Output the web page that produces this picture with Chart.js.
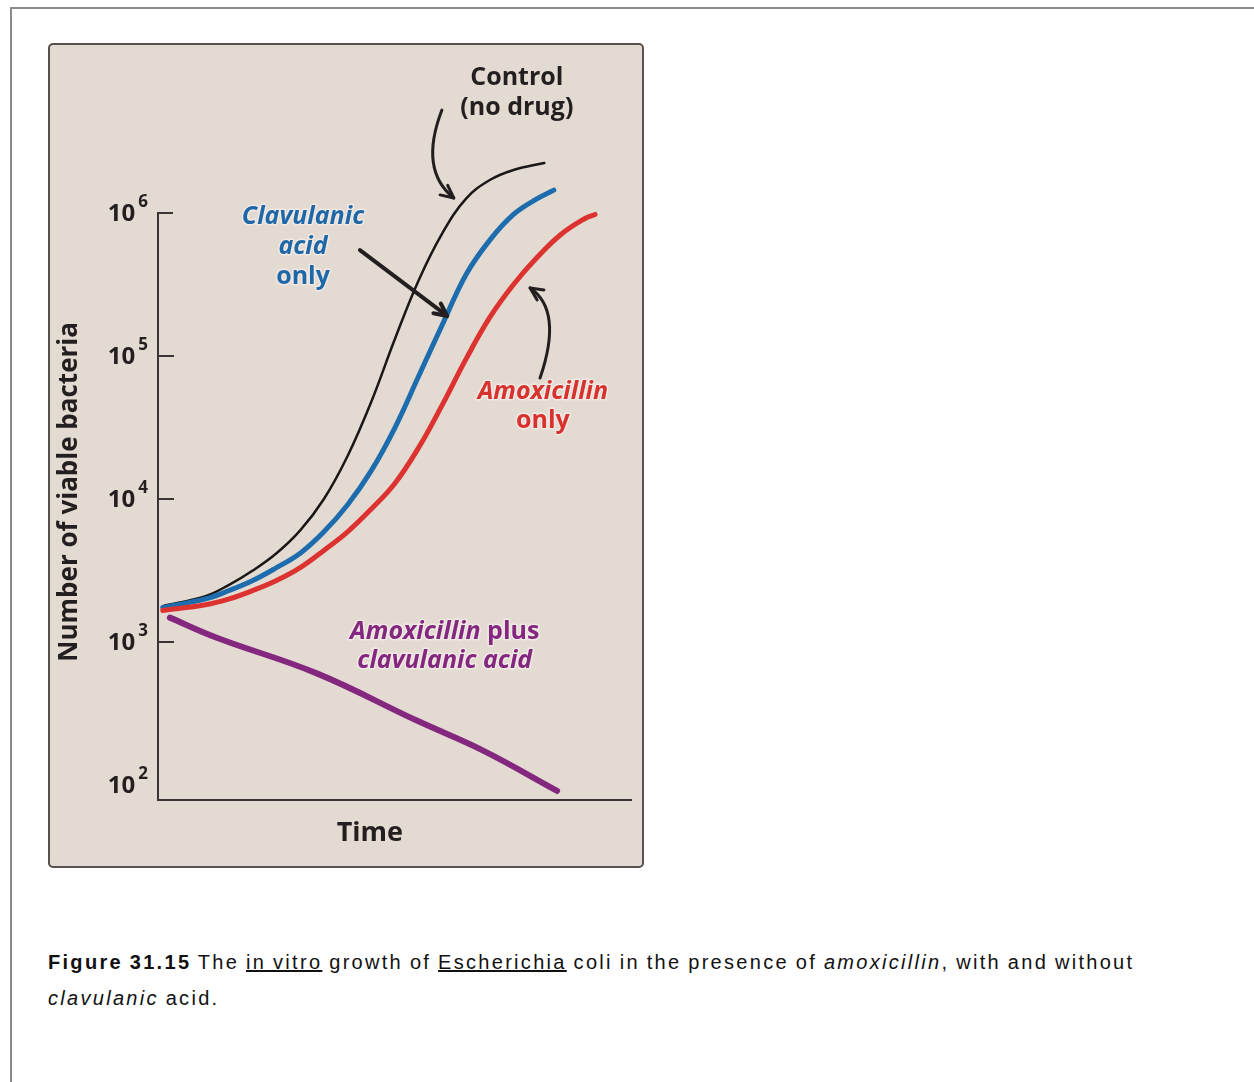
<!DOCTYPE html>
<html>
<head>
<meta charset="utf-8">
<script src="https://cdn.jsdelivr.net/npm/chart.js@4.4.1/dist/chart.umd.min.js"></script>
<style>
  body { margin: 0; background: #fff; width: 1254px; height: 1082px; overflow: hidden; position: relative; }
  #frame { position: absolute; left: 10px; top: 7px; width: 1400px; height: 1200px;
           border-top: 2px solid #8a8a8a; border-left: 2px solid #8a8a8a; }
  #panel { position: absolute; left: 48px; top: 43px; width: 592px; height: 821px;
           background: #e3dbd1; border: 2px solid #57504e; border-radius: 5px; }
  #panel canvas { position: absolute; left: 0; top: 0; }
  #caption { position: absolute; left: 48px; top: 944px; width: 1200px;
             font-family: "Liberation Sans", Arial, sans-serif; font-size: 20px;
             line-height: 36px; color: #111; letter-spacing: 2.3px; word-spacing: -1px; }
</style>
</head>
<body>
<div id="frame"></div>
<div id="panel"><canvas id="chart"></canvas></div>
<div id="caption"><b>Figure 31.15</b> The <u>in vitro</u> growth of <u>Escherichia</u> coli in the presence of <i>amoxicillin</i>, with and without<br><i>clavulanic</i> acid.</div>
<script>
// time in arbitrary units, counts
var controlTime  = [0.1, 1, 1.5, 2, 2.5, 3, 3.5, 4, 4.5, 5, 5.5, 6, 6.5, 7, 7.5, 8.15];
var controlCount = [1780, 2090, 2510, 3160, 4170, 6030, 10000, 20000, 47900, 132000, 339000, 724000, 1260000, 1700000, 2000000, 2240000];

var clavTime  = [0.1, 1, 1.5, 2, 2.5, 3, 3.5, 4, 4.5, 5, 5.5, 6, 6.5, 7, 7.5, 8, 8.35];
var clavCount = [1740, 2000, 2290, 2690, 3310, 4170, 5890, 9120, 15800, 31600, 72400, 166000, 372000, 646000, 977000, 1260000, 1445000];

var amoxTime  = [0.1, 1, 1.5, 2, 2.5, 3, 3.5, 4, 4.5, 5, 5.5, 6, 6.5, 7, 7.5, 8, 8.5, 9, 9.22];
var amoxCount = [1660, 1820, 2000, 2290, 2690, 3310, 4370, 5890, 8510, 12900, 22900, 45700, 95500, 186000, 316000, 490000, 708000, 912000, 977000];

var bothTime  = [0.25, 1.24, 3.35, 5.46, 6.86, 8.42];
var bothCount = [1480, 1070, 603, 282, 174, 91];

var tickExponents = [2, 3, 4, 5, 6];

function pts(t, n) {
    return t.map(function (v, i) { return {x: v, y: n[i]}; });
}

var FONT = '"Open Sans", "Noto Sans", sans-serif';
var INK = '#231f20';

function drawRuns(ctx, runs, cx, cy, size, color, halo) {
    var w = 0;
    runs.forEach(function (r) {
        ctx.font = (r.italic ? 'italic ' : '') + 'bold ' + size + 'px ' + FONT;
        r.w = ctx.measureText(r.text).width;
        w += r.w;
    });
    var x = cx - w / 2;
    ctx.textBaseline = 'middle';
    ctx.textAlign = 'left';
    runs.forEach(function (r) {
        ctx.font = (r.italic ? 'italic ' : '') + 'bold ' + size + 'px ' + FONT;
        if (halo) {
            ctx.lineWidth = 3;
            ctx.lineJoin = 'round';
            ctx.strokeStyle = 'rgba(255,248,250,0.5)';
            ctx.strokeText(r.text, x, cy);
        }
        ctx.fillStyle = color;
        ctx.fillText(r.text, x, cy);
        x += r.w;
    });
}

function arrowHead(ctx, x, y, ang) {
    var len = 14, spread = 0.45;
    ctx.beginPath();
    ctx.moveTo(x - len * Math.cos(ang - spread), y - len * Math.sin(ang - spread));
    ctx.lineTo(x, y);
    ctx.lineTo(x - len * Math.cos(ang + spread), y - len * Math.sin(ang + spread));
    ctx.stroke();
}

var figurePlugin = {
    id: 'figure',
    beforeDatasetsDraw: function (chart) {
        var ctx = chart.ctx, xs = chart.scales.x, ys = chart.scales.y, a = chart.chartArea;
        ctx.save();
        ctx.strokeStyle = '#3b3434';
        ctx.lineWidth = 2;
        var top = ys.getPixelForValue(1e6);
        ctx.beginPath();
        ctx.moveTo(a.left + 15, top);
        ctx.lineTo(a.left, top);
        ctx.lineTo(a.left, a.bottom);
        ctx.lineTo(xs.getPixelForValue(10), a.bottom);
        ctx.stroke();
        tickExponents.forEach(function (e) {
            var y = ys.getPixelForValue(Math.pow(10, e));
            if (e > 2 && e < 6) {
                ctx.beginPath();
                ctx.moveTo(a.left, y);
                ctx.lineTo(a.left + 16, y);
                ctx.stroke();
            }
            ctx.fillStyle = INK;
            ctx.textAlign = 'right';
            ctx.textBaseline = 'middle';
            ctx.font = 'bold 17px ' + FONT;
            ctx.fillText(String(e), a.left - 10, y - 11);
            var ew = ctx.measureText(String(e)).width;
            ctx.font = 'bold 24px ' + FONT;
            ctx.fillText('10', a.left - 13 - ew, y + 1);
        });
        // axis titles
        ctx.font = 'bold 27px ' + FONT;
        ctx.textAlign = 'center';
        ctx.fillStyle = INK;
        ctx.fillText('Time', xs.getPixelForValue(4.47), a.bottom + 33);
        ctx.font = 'bold 26px ' + FONT;
        ctx.save();
        ctx.translate(a.left - 88, ys.getPixelForValue(Math.pow(10, 4.05)));
        ctx.rotate(-Math.PI / 2);
        ctx.fillText('Number of viable bacteria', 0, 0);
        ctx.restore();
        ctx.restore();
    },
    afterDatasetsDraw: function (chart) {
        var ctx = chart.ctx, xs = chart.scales.x, ys = chart.scales.y;
        function P(t, lg) { return [xs.getPixelForValue(t), ys.getPixelForValue(Math.pow(10, lg))]; }
        ctx.save();
        var p, fs = 25;
        p = P(7.57, 6.944); drawRuns(ctx, [{text: 'Control'}], p[0], p[1], fs, INK);
        p = P(7.57, 6.737); drawRuns(ctx, [{text: '(no drug)'}], p[0], p[1], fs, INK);

        var blue = '#1f68a8', red = '#d8322f', purple = '#84287f';
        p = P(3.06, 5.972); drawRuns(ctx, [{text: 'Clavulanic', italic: true}], p[0], p[1], fs, blue, true);
        p = P(3.06, 5.762); drawRuns(ctx, [{text: 'acid', italic: true}], p[0], p[1], fs, blue, true);
        p = P(3.06, 5.552); drawRuns(ctx, [{text: 'only'}], p[0], p[1], fs, blue, true);

        p = P(8.12, 4.748); drawRuns(ctx, [{text: 'Amoxicillin', italic: true}], p[0], p[1], fs, red, true);
        p = P(8.12, 4.545); drawRuns(ctx, [{text: 'only'}], p[0], p[1], fs, red, true);

        p = P(6.05, 3.070); drawRuns(ctx, [{text: 'Amoxicillin', italic: true}, {text: ' plus'}], p[0], p[1], fs, purple, true);
        p = P(6.05, 2.867); drawRuns(ctx, [{text: 'clavulanic acid', italic: true}], p[0], p[1], fs, purple, true);

        // arrows
        ctx.strokeStyle = INK;
        ctx.lineCap = 'round';
        ctx.lineJoin = 'round';
        ctx.lineWidth = 3;
        var s, c, e;
        s = P(5.99, 6.72); c = P(5.5, 6.30); e = P(6.24, 6.105);
        ctx.beginPath(); ctx.moveTo(s[0], s[1]); ctx.quadraticCurveTo(c[0], c[1], e[0], e[1]); ctx.stroke();
        arrowHead(ctx, e[0], e[1], Math.atan2(e[1] - c[1], e[0] - c[0]));

        s = P(4.26, 5.741); e = P(6.10, 5.28);
        ctx.lineWidth = 4;
        ctx.beginPath(); ctx.moveTo(s[0], s[1]); ctx.lineTo(e[0], e[1]); ctx.stroke();
        arrowHead(ctx, e[0], e[1], Math.atan2(e[1] - s[1], e[0] - s[0]));

        ctx.lineWidth = 3;
        s = P(8.06, 4.846); c = P(8.55, 5.32); e = P(7.85, 5.476);
        ctx.beginPath(); ctx.moveTo(s[0], s[1]); ctx.quadraticCurveTo(c[0], c[1], e[0], e[1]); ctx.stroke();
        arrowHead(ctx, e[0], e[1], Math.atan2(e[1] - c[1], e[0] - c[0]));
        ctx.restore();
    }
};

var canvas = document.getElementById('chart');
canvas.width = 592;
canvas.height = 821;

var allData = {
    datasets: [
        {label: 'Amoxicillin plus clavulanic acid', data: pts(bothTime, bothCount), borderColor: '#84287f', borderWidth: 6},
        {label: 'Amoxicillin only', data: pts(amoxTime, amoxCount), borderColor: '#dc3230', borderWidth: 5},
        {label: 'Clavulanic acid only', data: pts(clavTime, clavCount), borderColor: '#1c6cae', borderWidth: 5},
        {label: 'Control (no drug)', data: pts(controlTime, controlCount), borderColor: '#1a1718', borderWidth: 2.5}
    ]
};

var chartOptions = {
    responsive: false,
    animation: false,
    layout: {padding: {left: 108, top: 105, right: 10, bottom: 66}},
    plugins: {legend: {display: false}, tooltip: {enabled: false}},
    elements: {
        point: {radius: 0},
        line: {tension: 0.4, borderCapStyle: 'round', fill: false}
    },
    scales: {
        x: {type: 'linear', min: 0, max: 10, display: false},
        y: {type: 'logarithmic', min: 78.5, max: 2758000, display: false}
    }
};

new Chart(canvas, {type: 'line', data: allData, options: chartOptions, plugins: [figurePlugin]});
</script>
</body>
</html>
